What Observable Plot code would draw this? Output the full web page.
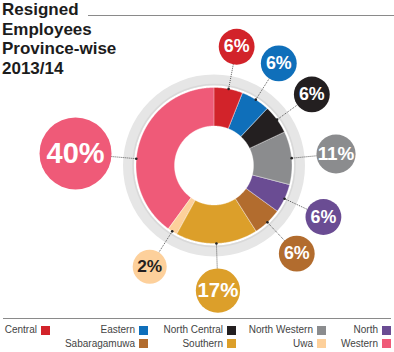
<!DOCTYPE html>
<html>
<head>
<meta charset="utf-8">
<script src="https://cdn.jsdelivr.net/npm/d3@7"></script>
<script src="https://cdn.jsdelivr.net/npm/@observablehq/plot@0.6"></script>
<style>
  body { margin: 0; background: #fff; }
  #wrap { position: relative; width: 394px; height: 352px; overflow: hidden; font-family: "Liberation Sans", Arial, sans-serif; }
  #chart { position: absolute; left: 0; top: 0; }
  .title { position: absolute; left: 2px; top: 0; font-weight: bold; font-size: 17px; line-height: 19.5px; color: #1c1c1c; }
  .rule { position: absolute; height: 0; border-top: 1px solid #8a8a8a; }
  .item { position: absolute; display: flex; align-items: center; height: 10px; font-size: 10px; line-height: 10px; color: #444; white-space: nowrap; }
  .sw { display: inline-block; width: 9px; height: 9px; margin-left: 4px; }
</style>
</head>
<body>
<div id="wrap">
  <div id="chart"></div>
  <div class="title">Resigned<br>Employees<br>Province-wise<br>2013/14</div>
  <div class="rule" style="left:88px; right:0; top:14.5px;"></div>
  <div class="rule" style="left:3px; width:388px; top:318px;"></div>
  <div id="legend"></div>
</div>
<script>
// ---- data ----
const provinces = ["Central", "Eastern", "North Central", "North Western", "North", "Sabaragamuwa", "Southern", "Uwa", "Western"];
const shares = [6, 6, 6, 11, 6, 6, 17, 2, 40];
const palette = ["#d2232a", "#0f6fba", "#231f20", "#8b8c8e", "#6a4c93", "#b26c2e", "#dc9f2a", "#fdd09b", "#ef5a78"];

// ---- layout ----
const W = 394, H = 314;
const cx = 213.5, cy = 165;
const rInner = 39.5, rOuter = 78;
const ringMid = 85.5, ringWidth = 11;
const deg = Math.PI / 180;

const rows = provinces.map((name, i) => ({name, share: shares[i], color: palette[i]}));
const arcs = d3.pie().sort(null).value(d => d.share)(rows);

const rDomain = [0, d3.max(shares)], rRange = [16.8, 36];
const rLabel = d3.scalePow().exponent(1.5).domain(rDomain).range(rRange);

const polar = (r, a) => ({x: r * Math.sin(a), y: r * Math.cos(a)});

// slice polygons
const slicePolys = arcs.map(a => {
  const pts = [];
  const n = Math.max(2, Math.ceil((a.endAngle - a.startAngle) / (0.5 * deg)));
  for (let k = 0; k <= n; k++) pts.push(polar(rOuter, a.startAngle + (a.endAngle - a.startAngle) * k / n));
  for (let k = n; k >= 0; k--) pts.push(polar(rInner, a.startAngle + (a.endAngle - a.startAngle) * k / n));
  return {color: a.data.color, pts};
});

// labels
const labels = arcs.map(a => {
  const mid = (a.startAngle + a.endAngle) / 2;
  const ang = Math.min(mid, 275 * deg);
  const r = rLabel(a.data.share);
  const p = polar(103 + r, ang);
  const s = polar(rOuter, ang);
  return {
    ...a.data, ang, x: p.x, y: p.y, x0: s.x, y0: s.y,
    text: a.data.share + "%",
    ink: d3.lab(a.data.color).l > 80 ? "#231f20" : "#ffffff",
    fs: 6.8 + 0.616 * r
  };
});

const chart = Plot.plot({
  width: W,
  height: H,
  margin: 0,
  x: {domain: [-cx, W - cx], axis: null},
  y: {domain: [-(H - cy), cy], axis: null},
  r: {type: "pow", exponent: 1.5, domain: rDomain, range: rRange},
  marks: [
    Plot.dot([0], {x: () => 0, y: () => 0, r: ringMid, fill: "none", stroke: "#e6e6e6", strokeWidth: ringWidth}),
    Plot.dot([0], {x: () => 0, y: () => 0, r: ringMid - ringWidth / 2 + 1, fill: "none", stroke: "#d9d9d9", strokeWidth: 1.5}),
    ...slicePolys.map(s => Plot.line(s.pts, {x: "x", y: "y", fill: s.color, stroke: "#ffffff", strokeWidth: 0.6, strokeOpacity: 0.6, curve: "linear-closed"})),
    Plot.link(labels, {x1: "x0", y1: "y0", x2: "x", y2: "y", stroke: "#333", strokeWidth: 0.8, strokeDasharray: "1,1"}),
    Plot.dot(labels, {x: "x0", y: "y0", r: 1.3, fill: "#222", stroke: "none"}),
    Plot.dot(labels, {x: "x", y: "y", r: "share", fill: d => d.color, stroke: "none"}),
    Plot.text(labels, {x: "x", y: "y", text: "text", fill: d => d.ink, fontSize: d => d.fs, fontWeight: "bold", fontFamily: "Liberation Sans, Arial, sans-serif"})
  ]
});
document.getElementById("chart").appendChild(chart);

// ---- legend ----
const colRight = [50, 148, 236, 326, 391];
const rowTop = [325, 338.5];
const legend = document.getElementById("legend");
rows.forEach((d, i) => {
  const row = i < 5 ? 0 : 1;
  const col = i < 5 ? i : i - 4;
  const el = document.createElement("div");
  el.className = "item";
  el.style.right = (W - colRight[col]) + "px";
  el.style.top = rowTop[row] + "px";
  const t = document.createElement("span");
  t.textContent = d.name;
  const sw = document.createElement("span");
  sw.className = "sw";
  sw.style.background = d.color;
  el.appendChild(t);
  el.appendChild(sw);
  legend.appendChild(el);
});
</script>
</body>
</html>
